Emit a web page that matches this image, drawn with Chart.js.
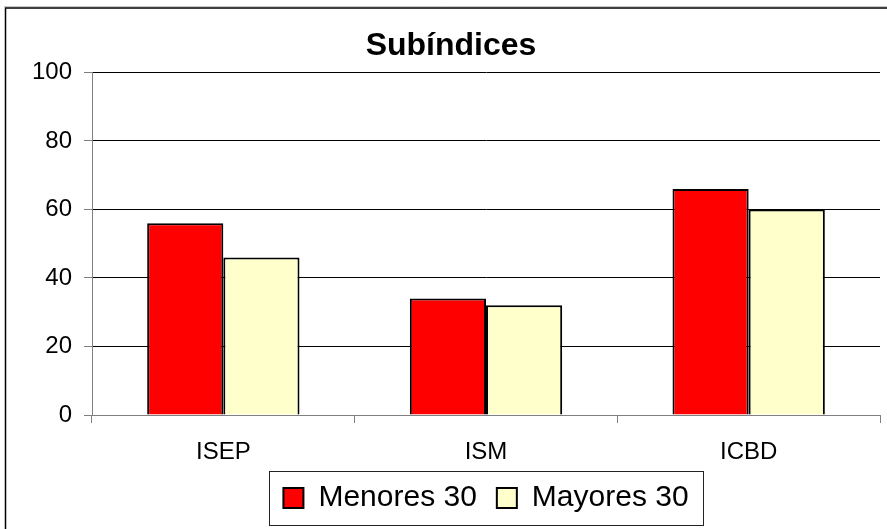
<!DOCTYPE html>
<html>
<head>
<meta charset="utf-8">
<script src="https://cdn.jsdelivr.net/npm/chart.js@4"></script>
<style>
html,body{margin:0;padding:0;background:#fff;}
#wrap{width:887px;height:529px;position:relative;}
</style>
</head>
<body>
<div id="wrap"><canvas id="c" width="887" height="529"></canvas></div>
<script>
const categories = ["ISEP", "ISM", "ICBD"];
const menores30 = [56, 34, 66];
const mayores30 = [46, 32, 60];
const seriesNames = ["Menores 30", "Mayores 30"];
const yTicks = [0, 20, 40, 60, 80, 100];
const chartTitle = "Subíndices";

const FONT = "'Liberation Sans', Arial, sans-serif";

const framePlugin = {
  id: 'frame',
  afterDraw(chart) {
    const ctx = chart.ctx;
    ctx.save();
    ctx.strokeStyle = '#c8c8c8';
    ctx.lineWidth = 1;
    ctx.beginPath();
    ctx.moveTo(4, 6.5); ctx.lineTo(887, 6.5);
    ctx.stroke();
    ctx.strokeStyle = '#000';
    ctx.lineWidth = 1.5;
    ctx.beginPath();
    ctx.moveTo(5.5, 529); ctx.lineTo(5.5, 8); ctx.lineTo(887, 8);
    ctx.stroke();
    const lg = chart.legend;
    if (lg && lg.legendHitBoxes && lg.legendHitBoxes.length) {
      const hb = lg.legendHitBoxes;
      const first = hb[0], last = hb[hb.length - 1];
      const l = Math.round(first.left - 14) + 0.5;
      const r = Math.round(last.left + last.width + 14) + 0.5;
      const t = Math.round(first.top - 12) + 0.5;
      const b = Math.round(first.top + first.height + 12) + 0.5;
      ctx.strokeStyle = '#222';
      ctx.lineWidth = 1;
      ctx.strokeRect(l, t, r - l, b - t);
    }
    ctx.restore();
  }
};

new Chart(document.getElementById('c'), {
  type: 'bar',
  data: {
    labels: categories,
    datasets: [
      { label: seriesNames[0], data: menores30, backgroundColor: '#ff0000', borderColor: '#000', borderWidth: 2 },
      { label: seriesNames[1], data: mayores30, backgroundColor: '#ffffcc', borderColor: '#000', borderWidth: 2 }
    ]
  },
  options: {
    responsive: false,
    animation: false,
    devicePixelRatio: 1,
    categoryPercentage: 0.58,
    barPercentage: 1.0,
    layout: { padding: { left: 22, right: 7, top: 0, bottom: 6 } },
    plugins: {
      title: {
        display: true,
        text: chartTitle,
        color: '#000',
        font: { family: FONT, size: 32, weight: 'bold' },
        padding: { top: 27, bottom: 7 }
      },
      legend: {
        display: true,
        position: 'bottom',
        fullSize: false,
        labels: {
          color: '#000',
          font: { family: FONT, size: 30 },
          boxWidth: 20,
          boxHeight: 20,
          padding: 20
        }
      },
      tooltip: { enabled: false }
    },
    scales: {
      x: {
        offset: true,
        grid: { display: true, drawOnChartArea: false, drawTicks: true, tickLength: 8, tickColor: '#808080', offset: true },
        border: { display: true, color: '#808080', width: 1 },
        ticks: { color: '#000', font: { family: FONT, size: 24 }, padding: 15, maxRotation: 0 },
        afterFit(scale) { scale.height = 48; }
      },
      y: {
        min: 0,
        max: 100,
        afterBuildTicks(scale) { scale.ticks = yTicks.map(v => ({ value: v })); },
        grid: { color: '#000', lineWidth: 1, tickLength: 8, tickColor: '#808080' },
        border: { display: true, color: '#808080', width: 1 },
        ticks: { color: '#000', font: { family: FONT, size: 24 }, padding: 12 },
        afterFit(scale) { scale.width = 70; }
      }
    }
  },
  plugins: [framePlugin]
});
</script>
</body>
</html>
